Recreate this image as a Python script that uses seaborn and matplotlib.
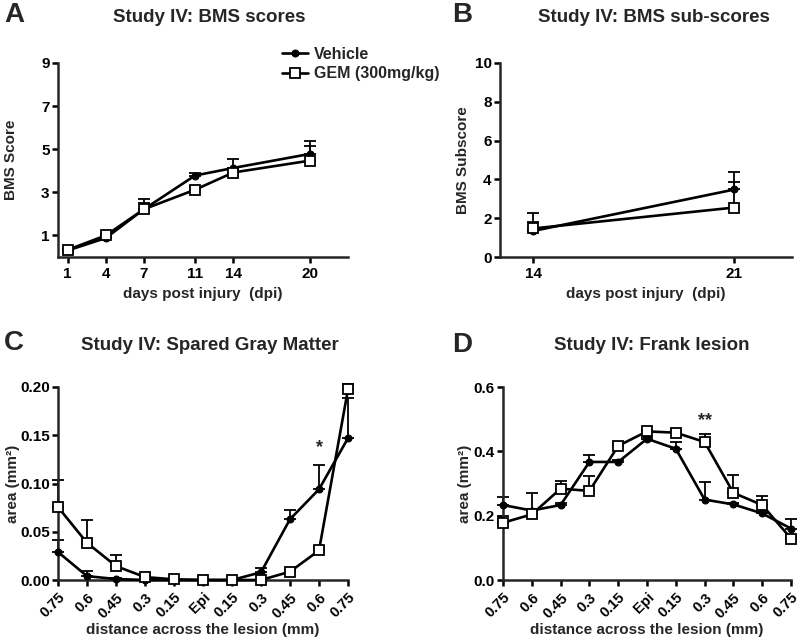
import numpy as np
import matplotlib
matplotlib.use('Agg')
import matplotlib.pyplot as plt
import seaborn as sns

# data
days_a = [1, 4, 7, 11, 14, 20]
veh_a = [0.30, 0.88, 2.22, 3.78, 4.13, 4.78]
veh_a_err = [0.05, 0.08, 0.48, 0.12, 0.42, 0.58]
gem_a = [0.33, 1.00, 2.22, 3.12, 3.92, 4.47]
gem_a_err = [0.05, 0.08, 0.30, 0.15, 0.10, 0.68]

days_b = [14, 21]
veh_b = [1.34, 3.48]
veh_b_err = [0.95, 0.88]
gem_b = [1.47, 2.55]
gem_b_err = [0.34, 1.33]

dist_labels = ['0.75', '0.6', '0.45', '0.3', '0.15', 'Epi', '0.15', '0.3', '0.45', '0.6', '0.75']

veh_c = [0.029, 0.004, 0.001, 0.0, 0.0, 0.0, 0.0, 0.008, 0.063, 0.094, 0.147]
veh_c_err = [0.012, 0.005, 0.001, 0.0, 0.0, 0.0, 0.0, 0.004, 0.010, 0.025, 0.042]
gem_c = [0.0756, 0.0385, 0.0144, 0.003, 0.0007, 0.0, 0.0, 0.0, 0.0086, 0.0306, 0.1976]
gem_c_err = [0.028, 0.024, 0.012, 0.001, 0.0, 0.0, 0.0, 0.0, 0.002, 0.004, 0.005]

veh_d = [0.233, 0.216, 0.233, 0.367, 0.367, 0.439, 0.408, 0.250, 0.235, 0.207, 0.160]
veh_d_err = [0.025, 0.005, 0.005, 0.022, 0.005, 0.005, 0.021, 0.055, 0.005, 0.005, 0.029]
gem_d = [0.178, 0.204, 0.284, 0.277, 0.417, 0.462, 0.458, 0.429, 0.271, 0.233, 0.129]
gem_d_err = [0.022, 0.065, 0.023, 0.047, 0.010, 0.005, 0.005, 0.026, 0.055, 0.029, 0.005]

# style
sns.set_style('ticks')
plt.rcParams['font.family'] = ['Liberation Sans', 'DejaVu Sans']
plt.rcParams['font.weight'] = 'bold'
plt.rcParams['axes.labelweight'] = 'bold'
plt.rcParams['axes.linewidth'] = 1.8
plt.rcParams['xtick.major.width'] = 1.8
plt.rcParams['ytick.major.width'] = 1.8
plt.rcParams['xtick.major.size'] = 4
plt.rcParams['ytick.major.size'] = 4
plt.rcParams['ytick.major.pad'] = 2
plt.rcParams['xtick.color'] = 'black'
plt.rcParams['ytick.color'] = 'black'

fig = plt.figure(figsize=(8, 6.44), dpi=100)
ax_a = fig.add_axes([58/800, 1-257/644, 290/800, 194/644])
ax_b = fig.add_axes([500/800, 1-257/644, 292/800, 194/644])
ax_c = fig.add_axes([58/800, 1-580/644, 290/800, 193/644])
ax_d = fig.add_axes([503/800, 1-580/644, 288/800, 193/644])


def draw(ax, x, veh, veh_err, gem, gem_err):
    x = np.asarray(x)
    ax.errorbar(x, veh, yerr=[np.zeros(len(x)), veh_err], fmt='none', ecolor='black',
                elinewidth=1.3, capsize=4, capthick=1.3, zorder=2, clip_on=False)
    ax.errorbar(x, gem, yerr=[np.zeros(len(x)), gem_err], fmt='none', ecolor='black',
                elinewidth=1.3, capsize=4, capthick=1.3, zorder=2, clip_on=False)
    sns.lineplot(x=x, y=veh, ax=ax, color='black', linewidth=1.9, marker='o',
                 markersize=5, markeredgecolor='black', markerfacecolor='black',
                 label='Vehicle', clip_on=False, zorder=3, errorbar=None)
    sns.lineplot(x=x, y=gem, ax=ax, color='black', linewidth=1.9, marker='s',
                 markersize=7, markeredgecolor='black', markerfacecolor='white',
                 markeredgewidth=1.3, label='GEM (300mg/kg)', clip_on=False,
                 zorder=4, errorbar=None)
    for s in ['top', 'right']:
        ax.spines[s].set_visible(False)
    ax.tick_params(labelsize=11)
    for lab in ax.get_xticklabels() + ax.get_yticklabels():
        lab.set_fontweight('bold')


# A
draw(ax_a, days_a, veh_a, veh_a_err, gem_a, gem_a_err)
ax_a.set_xlim(0.25, 23)
ax_a.set_ylim(0, 9)
ax_a.set_xticks(days_a)
ax_a.set_yticks([1, 3, 5, 7, 9])
ax_a.set_xlabel('days post injury  (dpi)', fontsize=11)
ax_a.set_ylabel('BMS Score', fontsize=11)
ax_a.yaxis.set_label_coords(-0.138, 0.5)
handles, labels = ax_a.get_legend_handles_labels()
ax_a.get_legend().remove()
fig.legend(handles, labels, loc='center left', bbox_to_anchor=(268/800, 1-64/644),
           frameon=False, handlelength=1.6, handletextpad=0.4,
           labelspacing=0.3, prop={'weight': 'bold', 'size': 11.5})

# B
draw(ax_b, days_b, veh_b, veh_b_err, gem_b, gem_b_err)
ax_b.get_legend().remove()
ax_b.set_xlim(12.85, 23)
ax_b.set_ylim(0, 10)
ax_b.set_xticks(days_b)
ax_b.set_yticks([0, 2, 4, 6, 8, 10])
ax_b.set_xlabel('days post injury  (dpi)', fontsize=11)
ax_b.set_ylabel('BMS Subscore', fontsize=11)
ax_b.yaxis.set_label_coords(-0.103, 0.5)

# C and D
pos = np.arange(len(dist_labels))
draw(ax_c, pos, veh_c, veh_c_err, gem_c, gem_c_err)
draw(ax_d, pos, veh_d, veh_d_err, gem_d, gem_d_err)
for ax in (ax_c, ax_d):
    ax.get_legend().remove()
    ax.set_xlim(0, 10)
    ax.set_xticks(pos)
    ax.set_xticklabels(dist_labels, rotation=45, ha='right', rotation_mode='anchor',
                       fontweight='bold', fontsize=10.5)
    ax.set_xlabel('distance across the lesion (mm)', fontsize=11, labelpad=2)
    ax.set_ylabel('area (mm²)', fontsize=11)
ax_c.yaxis.set_label_coords(-0.132, 0.5)
ax_d.yaxis.set_label_coords(-0.108, 0.5)
ax_c.set_ylim(0, 0.20)
ax_c.set_yticks([0, 0.05, 0.10, 0.15, 0.20])
ax_c.set_yticklabels(['0.00', '0.05', '0.10', '0.15', '0.20'], fontweight='bold')
ax_d.set_ylim(0, 0.6)
ax_d.set_yticks([0, 0.2, 0.4, 0.6])
ax_d.set_yticklabels(['0.0', '0.2', '0.4', '0.6'], fontweight='bold')

ax_c.text(9, 0.128, '*', ha='center', va='bottom', fontsize=13, fontweight='bold')
ax_d.text(7, 0.468, '**', ha='center', va='bottom', fontsize=13, fontweight='bold')

# titles and panel letters
fig.text(209/800, 1-17/644, 'Study IV: BMS scores', ha='center', va='center',
         fontsize=13.5, fontweight='bold')
fig.text(654/800, 1-17/644, 'Study IV: BMS sub-scores', ha='center', va='center',
         fontsize=13.5, fontweight='bold')
fig.text(210/800, 1-345/644, 'Study IV: Spared Gray Matter', ha='center', va='center',
         fontsize=13.5, fontweight='bold')
fig.text(652/800, 1-345/644, 'Study IV: Frank lesion', ha='center', va='center',
         fontsize=13.5, fontweight='bold')
for letter, xx, yy in [('A', 4, 15), ('B', 452, 15), ('C', 4, 343), ('D', 452, 345)]:
    fig.text(xx/800, 1-yy/644, letter, ha='left', va='center', fontsize=20,
             fontweight='bold')

fig.savefig('out.png', dpi=100)
